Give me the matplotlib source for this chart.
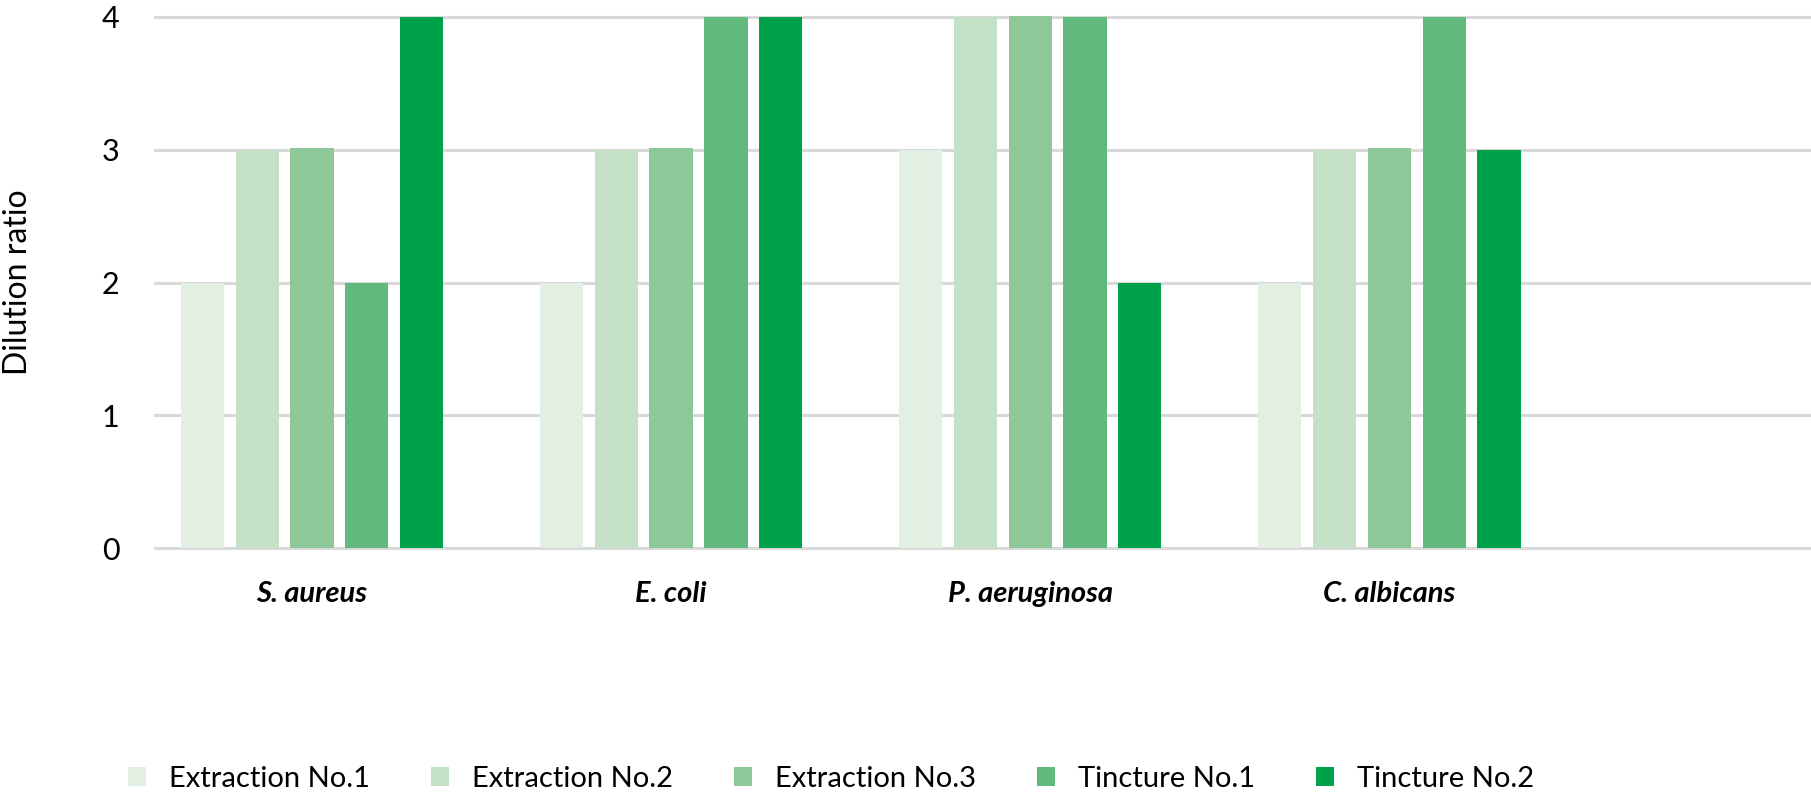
import numpy as np
import matplotlib.pyplot as plt

plt.rcParams['font.family'] = ['Lato', 'DejaVu Sans']

categories = ['S. aureus', 'E. coli', 'P. aeruginosa', 'C. albicans']
series = ['Extraction No.1', 'Extraction No.2', 'Extraction No.3', 'Tincture No.1', 'Tincture No.2']
extraction1 = [2, 2, 3, 2]
extraction2 = [3, 3, 4, 3]
extraction3 = [3.01, 3.01, 4.01, 3.01]
tincture1 = [2, 4, 4, 4]
tincture2 = [4, 4, 2, 3]
values = [extraction1, extraction2, extraction3, tincture1, tincture2]
colors = ['#e2efe3', '#c4e0c6', '#8fc898', '#61b97d', '#00a14b']

fig = plt.figure(figsize=(18.11, 7.96), dpi=100)
ax = fig.add_axes([154 / 1811, 1 - 550 / 796, 1 - 154 / 1811, (550 - 15) / 796])

x = np.arange(len(categories))
step = 0.153
width = 0.12
for i, (name, vals) in enumerate(zip(series, values)):
    ax.bar(x + (i - 2) * step, vals, width, color=colors[i], label=name, zorder=3)

ax.set_xlim(-0.44, 4.175)
ax.set_ylim(-0.015, 4.015)
ax.set_yticks([0, 1, 2, 3, 4])
ax.grid(axis='y', color='#d9d9d9', linewidth=2.2, zorder=0)
for s in ax.spines.values():
    s.set_visible(False)
ax.tick_params(axis='both', length=0)
ax.tick_params(axis='y', pad=25, labelsize=22)
ax.tick_params(axis='x', pad=22)
ax.set_xticks(x)
ax.set_xticklabels(categories, fontstyle='italic', fontweight='bold', fontsize=21)
ax.set_ylabel('Dilution ratio', fontsize=23)
ax.yaxis.set_label_coords(-0.073, 0.5)

ax.legend(loc='center', bbox_to_anchor=(0.459, 17 / 796), bbox_transform=fig.transFigure,
          ncol=5, frameon=False, fontsize=21, handlelength=0.6, handleheight=0.6,
          handletextpad=0.8, columnspacing=2.1)

fig.savefig('out.png', dpi=100)
